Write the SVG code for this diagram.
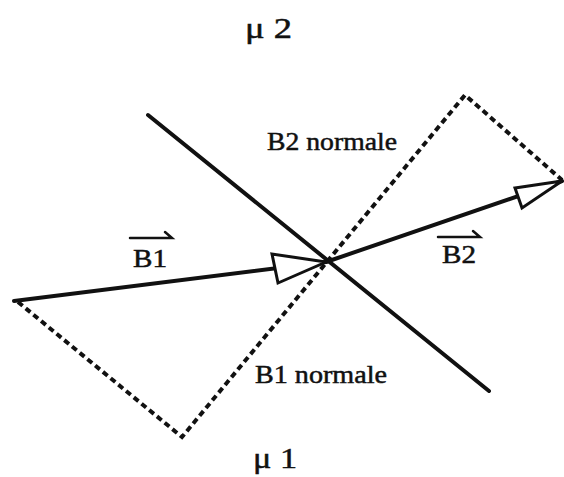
<svg xmlns="http://www.w3.org/2000/svg" width="564" height="477" viewBox="0 0 564 477">
<style>
.solid{stroke:#111;stroke-width:4;fill:none;stroke-linecap:round}
.dash{stroke:#111;stroke-width:4;fill:none;stroke-dasharray:6 4}
.head{stroke:#111;stroke-width:3;fill:#fff;stroke-linejoin:miter}
.lbl{font-family:"Liberation Serif","Times New Roman",serif;fill:#111;stroke:#111;stroke-width:0.5}
.vec{stroke:#111;stroke-width:2.5;fill:none;stroke-linecap:round}
</style>
<rect width="564" height="477" fill="#fff"/>
<g id="connectors">
  <line class="solid" x1="148" y1="115" x2="489" y2="391"/>
  <polyline class="dash" points="18,302 182,437 465,95 562,180"/>
  <line class="solid" x1="14" y1="301" x2="326" y2="262"/>
  <line class="solid" x1="326" y1="262" x2="562" y2="181"/>
  <polygon class="head" points="326,262 272,254 278,283"/>
  <polygon class="head" points="562,181 515,188 522,208"/>
</g>
<g id="mu2"><text class="lbl" x="245" y="38" font-size="30" textLength="47" lengthAdjust="spacingAndGlyphs">μ 2</text></g>
<g id="mu1"><text class="lbl" x="253" y="468" font-size="30" textLength="44" lengthAdjust="spacingAndGlyphs">μ 1</text></g>
<g id="b2normale"><text class="lbl" x="267" y="150" font-size="26" textLength="130" lengthAdjust="spacingAndGlyphs">B2 normale</text></g>
<g id="b1normale"><text class="lbl" x="255" y="383" font-size="25" textLength="132" lengthAdjust="spacingAndGlyphs">B1 normale</text></g>
<g id="b1label">
  <text class="lbl" x="133" y="267" font-size="25" textLength="34" lengthAdjust="spacingAndGlyphs">B1</text>
  <path class="vec" d="M130,238 H172 L165,232"/>
</g>
<g id="b2label">
  <text class="lbl" x="442" y="263" font-size="25" textLength="34" lengthAdjust="spacingAndGlyphs">B2</text>
  <path class="vec" d="M438,237 H480 L473,231"/>
</g>
</svg>
